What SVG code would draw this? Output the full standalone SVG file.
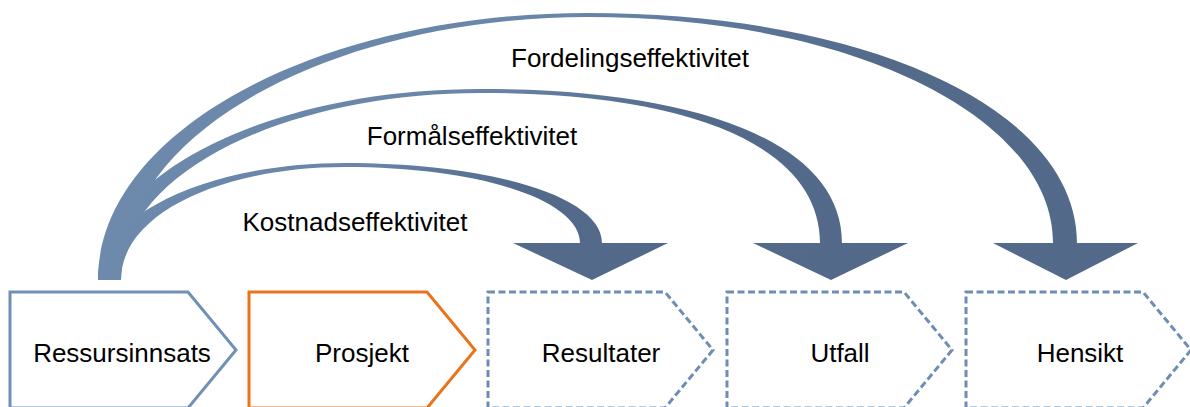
<svg xmlns="http://www.w3.org/2000/svg" width="1190" height="407" viewBox="0 0 1190 407">
  <style>
    .lbl { font-family: "Liberation Sans", Arial, sans-serif; font-size: 26px; fill: #000; text-anchor: middle; }
    .step { fill: #fff; stroke-width: 3; stroke-linejoin: miter; }
    .solid { stroke: #7190B5; }
    .active { stroke: #E9741B; }
    .planned { stroke: #6F8DB4; stroke-dasharray: 7 3.5; }
  </style>
  <defs>
    <linearGradient id="arcShade" x1="0" y1="0" x2="1" y2="0">
      <stop offset="0" stop-color="#6D8AAD"/>
      <stop offset="0.45" stop-color="#6986A9"/>
      <stop offset="0.75" stop-color="#536A8B"/>
      <stop offset="1" stop-color="#52698A"/>
    </linearGradient>
  </defs>

  <!-- curved efficiency arrows from the resource input -->
  <g id="connectors" fill="url(#arcShade)">
    <!-- to Hensikt -->
    <path d="M98,280 C98,132 317,13 588,13 C870,13 1077,110 1077,243 L1138,243 L1066,280 L993,243 L1053,243 C1053,117 852,17 588,17 C345,17 121,125 121,280 Z"/>
    <!-- to Utfall -->
    <path d="M98,280 C98,175 270,89 480,89 C705,89 842,145 842,243 L908,243 L831,280 L753,243 L820,243 C820,150 700,93 480,93 C295,93 121,168 121,280 Z"/>
    <!-- to Resultater -->
    <path d="M98,280 C98,215 208,163 345,163 C485,163 602,195 602,243 L668,243 L592,280 L513,243 L580,243 C580,200 480,167 345,167 C225,167 121,212 121,280 Z"/>
  </g>

  <g id="arc-labels">
    <text class="lbl" x="630" y="67">Fordelingseffektivitet</text>
    <text class="lbl" x="472" y="145">Formålseffektivitet</text>
    <text class="lbl" x="355" y="231">Kostnadseffektivitet</text>
  </g>

  <g id="node-ressursinnsats">
    <polygon class="step solid" points="10,292 188,292 236,350 188,408 10,408"/>
    <text class="lbl" x="122" y="362">Ressursinnsats</text>
  </g>
  <g id="node-prosjekt">
    <polygon class="step active" points="249,292 427,292 475,350 427,408 249,408"/>
    <text class="lbl" x="362" y="362">Prosjekt</text>
  </g>
  <g id="node-resultater">
    <polygon class="step planned" points="488,292 665,292 713,350 665,408 488,408"/>
    <text class="lbl" x="601" y="362">Resultater</text>
  </g>
  <g id="node-utfall">
    <polygon class="step planned" points="727,292 904,292 952,350 904,408 727,408"/>
    <text class="lbl" x="840" y="362">Utfall</text>
  </g>
  <g id="node-hensikt">
    <polygon class="step planned" points="966,292 1143,292 1191,350 1143,408 966,408"/>
    <text class="lbl" x="1080" y="362">Hensikt</text>
  </g>
</svg>
